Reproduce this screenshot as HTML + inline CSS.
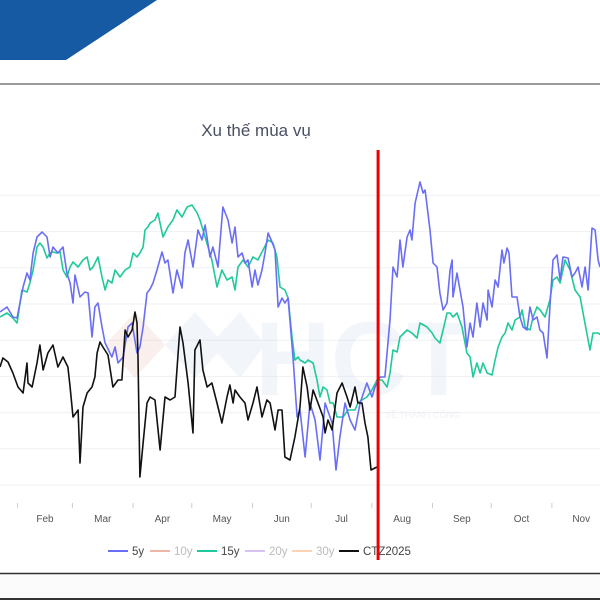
<!DOCTYPE html>
<html><head><meta charset="utf-8">
<style>
html,body{margin:0;padding:0;background:#fff;}
body{width:600px;height:600px;overflow:hidden;position:relative;font-family:"Liberation Sans","Noto Sans CJK SC",sans-serif;}
svg{position:absolute;left:0;top:0;}
</style></head>
<body>
<svg id="chart" width="600" height="600" viewBox="0 0 600 600">
  <polygon points="0,0 157,0 66,60 0,60" fill="#155aa2"/>
  <line x1="0" y1="84" x2="600" y2="84" stroke="#9a9a9a" stroke-width="2"/>
  <rect x="0" y="574" width="600" height="24" fill="#fbfbfb"/>
  <line x1="0" y1="573.5" x2="600" y2="573.5" stroke="#333" stroke-width="1.5"/>
  <line x1="0" y1="599" x2="600" y2="599" stroke="#333" stroke-width="2"/>
  <text x="256" y="136" text-anchor="middle" font-size="17" fill="#4a5064">Xu thế mùa vụ</text>
  <g id="grid"></g>
  <g opacity="0.22">
    <polygon points="105,345 135,312 165,345 135,378" fill="#e8b9b0"/>
    <polygon points="165,345 195,312 225,345 195,378" fill="#c9d6ea"/>
    <polygon points="210,345 240,312 265,345 240,378" fill="#c9d6ea"/>
    <text x="255" y="395" font-size="105" font-weight="bold" fill="#c9d6ea" font-family="Liberation Sans, sans-serif">HCT</text>
    <text x="385" y="418" font-size="9" fill="#b8c2d0">SẼ THÀNH CÔNG</text>
  </g>
  <g id="xaxis"></g>
  <g id="series"></g>
  <g id="legend"></g>
</svg>
<script>
// ---- data (day-of-year, value in bp-like units) ----
const monthLabels = ["Feb","Mar","Apr","May","Jun","Jul","Aug","Sep","Oct","Nov"];
const monthStarts = [31,59,90,120,151,181,212,243,273,304,334];
const days5y = [22,25.6,28.6,30.7,33.8,35.8,37.3,38.9,40.9,43.5,46,47.6,49.1,51.6,54.2,56.2,57.8,59.3,60.3,62.9,65.4,67,69,70.5,72.1,74.1,75.7,79.2,80.8,82.3,84.9,87.4,89.5,92,93.5,95.1,97.1,98.7,100.2,102.2,104.8,106.3,107.8,110.4,112.4,115,116.5,118.1,120.6,123.2,125.2,126.8,129.3,130.8,133.4,135.9,138.5,140.6,142.1,143.6,145.7,147.2,148.7,150.8,152.3,153.8,155.9,157.4,159,161,162.5,164.1,166.1,167.6,169.2,171.7,173.8,175.3,177.9,180.4,183,185.5,188.1,191.7,193.7,195.7,198.3,200.9,203.4,206,209.5,212.1,213.6,216.2,218.7,221.3,222.8,224.9,226.4,227.9,230,231.5,232.5,234.1,236.6,238.2,239.2,241.7,243.3,245.3,246.8,248.4,250.4,252,253,253.5,255.5,258.6,260.6,262.2,263.7,265.7,267.3,268.8,270.9,271.4,273.4,275,276.5,278.5,279.5,281.1,282.1,283.6,286.2,287.7,289.3,291.3,292.8,294.4,296.4,297.9,299.5,301.5,303,304.6,306.6,308.2,309.7,312.3,314.3,315.8,317.4,319.4,321,322.5,324.5,326.1,327.6,328.6];
const vals5y = [173,178,168,167,198,212,205,232,248,253,248,228,238,232,238,212,202,182,210,188,193,192,148,178,182,158,142,128,138,122,128,158,162,132,138,158,192,196,202,215,233,222,225,192,215,197,232,245,218,255,245,260,228,238,218,278,265,242,258,228,232,222,225,198,215,200,215,232,252,243,235,178,187,182,187,128,68,75,28,82,65,25,82,62,15,48,82,65,55,82,102,88,98,108,108,165,218,208,245,218,248,255,245,282,303,292,295,255,222,218,192,175,182,215,225,188,212,178,138,162,148,182,158,182,165,195,178,205,198,235,222,237,232,188,188,168,158,155,178,165,168,155,152,127,178,225,230,205,228,227,208,212,218,198,218,195,257,255,225,218];
const days15y = [22,25.6,28.6,30.7,31.2,33.2,35.8,37.3,38.9,40.9,42.4,44,46,47.6,49.1,51.1,52.7,54.2,56.2,57.8,59.3,61.9,64.4,66.5,68,69.5,72.1,74.1,75.7,77.2,79.2,80.8,83.3,85.9,88.4,90,92,93.5,95.1,96.1,97.6,98.7,101.2,102.7,105.3,107.8,110.4,112.4,115,117.6,120.1,122.7,124.2,126.8,130.3,132.9,135.4,138,140.6,142.1,143.6,146.2,148.7,151.3,153.8,156.4,159,161.5,163.5,165.1,167.6,169.2,171.2,172.7,174.3,175.3,177.9,179.4,182,184,185.5,187.1,189.1,190.6,192.2,194.2,197.3,199.8,203.4,204.9,207,209.5,212.1,214.6,217.2,219.8,221.3,222.8,224.9,226.4,230,232.5,235.1,236.6,240.2,242.8,244.3,246.8,248.4,250.4,252,253.5,255.5,258.1,260.6,262.2,263.7,265.7,267.3,268.8,270.9,273.4,275,276.5,278.5,280.1,281.6,283.6,285.2,287.7,288.8,290.3,292.8,294.4,296.4,298,300.5,303,304.6,306.6,308.2,310.7,313.3,315.8,318.4,320.9,323.5,325,327.6,329];
const vals15y = [168,172,167,162,168,195,193,202,215,238,242,238,227,232,233,232,233,215,208,218,223,218,225,228,215,218,228,208,195,205,202,215,208,215,218,232,228,232,238,255,258,262,265,272,248,258,265,275,268,278,280,272,265,248,225,198,215,205,208,195,218,225,218,228,225,235,245,242,228,198,195,187,148,125,128,125,122,125,122,105,88,98,95,82,82,68,68,75,75,82,85,88,95,105,105,98,112,135,133,148,155,152,147,162,158,152,147,142,155,172,172,168,172,158,132,128,108,122,112,122,112,110,125,138,148,152,162,155,165,168,175,158,155,168,178,175,168,185,205,208,202,225,215,195,188,162,135,152,152,150];
const daysCTZ = [22,23.5,26.1,28.6,31.2,33.8,35.8,36.3,38.4,40.9,42.4,44,46.5,49.1,51.6,54.2,56.7,57.8,59.3,61.9,62.9,64.4,66.5,69,70.5,71.6,73.1,74.6,77.2,79.7,82.3,84.3,85.9,87.4,89.5,91,92,92.5,93.5,95.1,97.1,98.7,101.2,103.8,106.3,108.9,111.4,114,115.5,118.1,120.6,121.6,124.2,125.7,127.8,130.3,132.9,135.4,138,139.5,141.1,142.1,144.6,147.2,148.7,151.3,153.3,155.9,158.4,160,162.5,164.1,166.1,167.6,170.2,172.7,175.3,176.8,178.9,180.4,182,184.5,187.1,188.1,189.6,191.7,194.2,196.8,199.3,200.9,203.4,204.9,207,208.5,210,211.6,214.6];
const valsCTZ = [118,127,123,112,98,92,122,102,98,122,140,115,132,140,118,128,118,98,68,75,22,78,92,98,108,132,143,138,130,98,105,105,155,148,155,173,162,128,8,42,82,88,85,35,88,85,88,158,142,102,52,135,145,115,98,102,82,62,88,100,82,95,88,82,65,82,98,68,85,82,55,75,75,28,25,48,78,118,98,75,95,82,68,52,65,55,92,102,88,78,98,82,82,62,48,15,18];
const currentDay = [215.2];

// ---- scales ----
const X0 = 22, XK = 1.957;
function xScale(d){ return (d - X0) * XK; }
const Y0 = 485;
function yScale(v){ return Y0 - v; }
const NS = "http://www.w3.org/2000/svg";
function mk(tag, attrs, parent){ const e=document.createElementNS(NS,tag); for(const k in attrs) e.setAttribute(k,attrs[k]); parent.appendChild(e); return e; }

const grid = document.getElementById('grid');
for(let i=0;i<=8;i++){
  const y = yScale(i*36.2);
  const l = mk('line',{x1:0,x2:600,y1:y,y2:y,stroke:'#eef0f4','stroke-width':1},grid);
  
  
}
const xa = document.getElementById('xaxis');
monthStarts.forEach((d,i)=>{
  const x = xScale(d);
  const t = mk('line',{x1:x,x2:x,y1:503,y2:508,stroke:'#ccc','stroke-width':1},xa);
  
  
  if(i < monthLabels.length){
    const xm = xScale((d + monthStarts[i+1]) / 2);
    const tx = mk('text',{x:xm,y:522,'text-anchor':'middle','font-size':'10',fill:'#555'},xa);
    tx.textContent = monthLabels[i];
    
    
  }
});
const sg = document.getElementById('series');
function drawLine(days, vals, color, name){
  const pts = days.map((d,i)=> xScale(d).toFixed(1)+','+yScale(vals[i]).toFixed(1)).join(' ');
  const p = mk('polyline',{points:pts,fill:'none',stroke:color,'stroke-width':1.6,'stroke-linejoin':'round'},sg);
  
  
}
drawLine(days15y, vals15y, '#1fc99a', 'series-15y');
drawLine(days5y, vals5y, '#6a6ef5', 'series-5y');
drawLine(daysCTZ, valsCTZ, '#111', 'series-ctz2025');
const rx = xScale(currentDay[0]);
const rl = mk('line',{x1:rx,x2:rx,y1:150,y2:560,stroke:'#ee0000','stroke-width':3},sg);



const lg = document.getElementById('legend');
const legNames = ["5y","10y","15y","20y","30y","CTZ2025"];
const legColors = ['#6a6ef5','#f0b5a8','#1fc99a','#d6c3f3','#fcd3b5','#111'];
const legText = ['#444','#bbb','#444','#bbb','#bbb','#444'];
const legX = [108,150,197,245,292,339];
legNames.forEach((n,i)=>{
  const g = mk('g',{},lg);
  
  
  mk('line',{x1:legX[i],x2:legX[i]+20,y1:551,y2:551,stroke:legColors[i],'stroke-width':2},g);
  const t = mk('text',{x:legX[i]+24,y:555,'font-size':'11.5',fill:legText[i]},g);
  t.textContent = n;
});
</script>
</body></html>
